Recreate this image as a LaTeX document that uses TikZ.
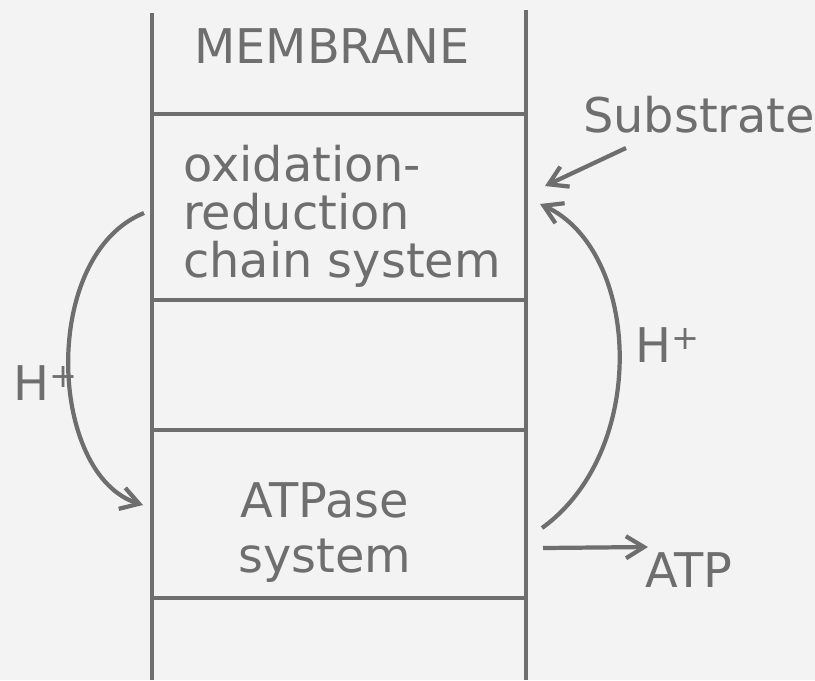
\documentclass[tikz,border=0pt]{standalone}
\usepackage{fontspec}
\setmainfont{DejaVu Sans}
\usetikzlibrary{arrows.meta}
\definecolor{ink}{HTML}{6E6E6E}
\definecolor{paper}{HTML}{F3F3F3}

\begin{document}
\begin{tikzpicture}[x=0.025cm,y=-0.025cm,
    wall/.style={draw=ink,line width=2.5pt},
    label/.style={text=ink,inner sep=0pt,font=\fontsize{34}{34}\selectfont},
    flow/.style={draw=ink,line width=3pt,-{Straight Barb[length=0.45cm,width=0.55cm]}}]
    % Page
    \fill[paper] (0,0) rectangle (815,680);
    \useasboundingbox (0,0) rectangle (815,680);

    % Membrane walls and partitions
    \draw[wall] (152,13) -- (152,680);
    \draw[wall] (526,10) -- (526,680);
    \foreach \y in {114,300,430,598} {
        \draw[wall] (152,\y) -- (526,\y);
    }

    % Labels
    \node[label,anchor=base] (membrane) at (332,63) {MEMBRANE};
    \node[label,anchor=north west,align=left] (redox) at (183,145) {oxidation-\\reduction\\chain system};
    \node[label,anchor=north,align=center] (atpase) at (325,482) {ATPase\\[0.2cm]system};
    \node[label,anchor=base west] (substrate) at (583,132) {Substrate};
    \node[label,anchor=base west] (hleft) at (13,400) {H\textsuperscript{+}};
    \node[label,anchor=base west] (hright) at (635,362) {H\textsuperscript{+}};
    \node[label,anchor=base west] (atp) at (645,587) {ATP};

    % Ends of the connectors at the membrane
    \coordinate (redoxout) at (144,213);
    \coordinate (atpasein) at (143,505);
    \coordinate (atpaseout) at (542,528);
    \coordinate (redoxin) at (540,204);
    \coordinate (subtail) at (626,148);
    \coordinate (subhead) at (545,186);
    \coordinate (atptail) at (543,548);
    \coordinate (atphead) at (648,547);

    % Proton flow
    \draw[flow] (redoxout) .. controls (40,255) and (48,475) .. (atpasein);
    \draw[flow] (atpaseout) .. controls (650,450) and (640,250) .. (redoxin);

    % Substrate in, ATP out
    \draw[flow] (subtail) -- (subhead);
    \draw[flow] (atptail) -- (atphead);
\end{tikzpicture}
\end{document}
